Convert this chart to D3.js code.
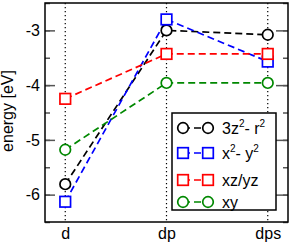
<!DOCTYPE html>
<html>
<head>
<meta charset="utf-8">
<script src="https://cdn.jsdelivr.net/npm/d3@7"></script>
<style>
  body { margin: 0; background: #fff; }
  text { font-family: "Liberation Sans", Arial, sans-serif; }
</style>
</head>
<body>
<div id="chart"></div>
<script>
// categories and series values
var categories = ["d", "dp", "dps"];
var z2Values = [-5.81, -3.0, -3.08];
var x2y2Values = [-6.13, -2.8, -3.57];
var xzyzValues = [-4.25, -3.43, -3.43];
var xyValues = [-5.18, -3.96, -3.96];
var yTicks = [-6, -5, -4, -3];

var series = [
  { name: "z2", values: z2Values, color: "#000000", shape: "circle" },
  { name: "x2y2", values: x2y2Values, color: "#0000ff", shape: "square" },
  { name: "xzyz", values: xzyzValues, color: "#ff0000", shape: "square" },
  { name: "xy", values: xyValues, color: "#008800", shape: "circle" }
];

var svgWidth = 291, svgHeight = 246;
var margin = { top: 3, right: 3, bottom: 24, left: 45 };
var width = svgWidth - margin.left - margin.right;
var height = svgHeight - margin.top - margin.bottom;

var svg = d3.select("#chart").append("svg")
  .attr("width", svgWidth)
  .attr("height", svgHeight);

var chartGroup = svg.append("g")
  .attr("transform", `translate(${margin.left}, ${margin.top})`);

var xScale = d3.scaleLinear().domain([-0.2, 2.2]).range([0, width]);
var yScale = d3.scaleLinear().domain([-6.5, -2.5]).range([height, 0]);

// vertical dotted lines at each category
chartGroup.selectAll(".vline")
  .data(categories).enter().append("line")
  .attr("x1", (d, i) => xScale(i)).attr("x2", (d, i) => xScale(i))
  .attr("y1", 0).attr("y2", height)
  .attr("stroke", "#000").attr("stroke-width", 1.2)
  .attr("stroke-dasharray", "1.2,2.8");

// ticks, inside, both sides
var minorTicks = d3.range(-6.5, -2.4, 0.5);
var leftMinor = d3.axisLeft(yScale).tickValues(minorTicks).tickSize(-5).tickFormat("");
var leftMajor = d3.axisLeft(yScale).tickValues(yTicks).tickSize(-10).tickPadding(5)
  .tickFormat(d => d);
var rightMinor = d3.axisRight(yScale).tickValues(minorTicks).tickSize(-5).tickFormat("");
var rightMajor = d3.axisRight(yScale).tickValues(yTicks).tickSize(-12).tickFormat("");

[leftMinor, leftMajor].forEach(function(ax) {
  chartGroup.append("g").attr("class", "axis").call(ax);
});
[rightMinor, rightMajor].forEach(function(ax) {
  chartGroup.append("g").attr("class", "axis")
    .attr("transform", `translate(${width}, 0)`).call(ax);
});

var bottomAxis = d3.axisBottom(xScale).tickValues([0, 1, 2]).tickSize(0).tickPadding(6)
  .tickFormat(d => categories[d]);
chartGroup.append("g").attr("class", "axis")
  .attr("transform", `translate(0, ${height})`).call(bottomAxis);

chartGroup.selectAll(".axis .domain").remove();
chartGroup.selectAll(".axis line").attr("stroke", "#555").attr("stroke-width", 1.5);
chartGroup.selectAll(".axis text")
  .attr("font-size", "16px").attr("fill", "#000")
  .attr("font-family", "Liberation Sans, Arial, sans-serif");

// lines
var line = d3.line().x((d, i) => xScale(i)).y(d => yScale(d));
series.forEach(function(s) {
  chartGroup.append("path")
    .datum(s.values)
    .attr("d", line)
    .attr("fill", "none")
    .attr("stroke", s.color)
    .attr("stroke-width", 1.7)
    .attr("stroke-dasharray", "7,4");
});

function drawMarker(g, shape, color, x, y) {
  if (shape === "circle") {
    g.append("circle").attr("cx", x).attr("cy", y).attr("r", 5.3)
      .attr("fill", "#fff").attr("stroke", color).attr("stroke-width", 1.7);
  } else {
    g.append("rect").attr("x", x - 5.3).attr("y", y - 5.3)
      .attr("width", 10.6).attr("height", 10.6)
      .attr("fill", "#fff").attr("stroke", color).attr("stroke-width", 1.7);
  }
}

series.forEach(function(s) {
  s.values.forEach(function(v, i) {
    drawMarker(chartGroup, s.shape, s.color, xScale(i), yScale(v));
  });
});

// frame
chartGroup.append("rect")
  .attr("width", width).attr("height", height)
  .attr("fill", "none").attr("stroke", "#000").attr("stroke-width", 1.5);

// legend
var legend = svg.append("g").attr("transform", "translate(172, 113)");
legend.append("rect").attr("width", 104).attr("height", 97)
  .attr("fill", "#fff").attr("stroke", "#000").attr("stroke-width", 1.5);

var labels = [
  [["3z", ""], ["2", "sup"], ["- r", ""], ["2", "sup"]],
  [["x", ""], ["2", "sup"], ["- y", ""], ["2", "sup"]],
  [["xz/yz", ""]],
  [["xy", ""]]
];
var rowY = [15, 40, 67, 89];

series.forEach(function(s, i) {
  var y = rowY[i];
  legend.append("line").attr("x1", 11).attr("x2", 36).attr("y1", y).attr("y2", y)
    .attr("stroke", s.color).attr("stroke-width", 1.7).attr("stroke-dasharray", "7,4");
  drawMarker(legend, s.shape, s.color, 11, y);
  drawMarker(legend, s.shape, s.color, 36, y);
  var t = legend.append("text").attr("x", 50).attr("y", y + 6)
    .attr("font-size", "16px").attr("fill", "#000");
  labels[i].forEach(function(p) {
    var ts = t.append("tspan").text(p[0]);
    if (p[1] === "sup") ts.attr("dy", -7).attr("font-size", "10px");
    else if (t.selectAll("tspan").size() > 1) ts.attr("dy", 7);
  });
});

// y axis label
svg.append("text")
  .attr("transform", "rotate(-90)")
  .attr("x", -111).attr("y", 13)
  .attr("text-anchor", "middle")
  .attr("font-size", "16px")
  .text("energy [eV]");
</script>
</body>
</html>
